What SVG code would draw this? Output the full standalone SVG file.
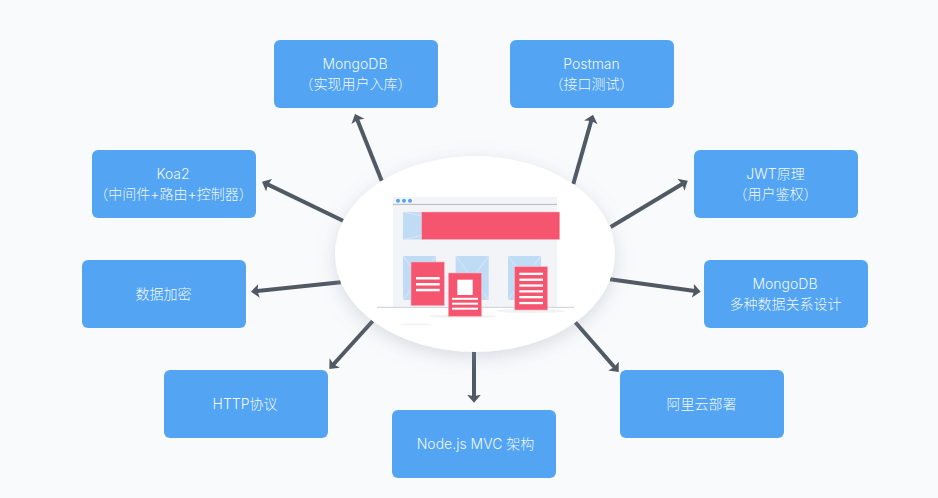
<svg xmlns="http://www.w3.org/2000/svg" width="938" height="498" viewBox="0 0 938 498">
<style>
text{font-family:"Inter","Noto Sans CJK SC","Noto Sans",sans-serif;font-size:14px;font-weight:300;fill:#fff;fill-opacity:.94;text-anchor:middle}
.box{fill:#53a5f3}
.conn{fill:none;stroke:#515a64;stroke-width:4}
.ph{fill:#c0dbf4}
.phl{stroke:#d9e8f8;stroke-width:1;fill:none}
.doc{fill:#f5556f;stroke:#f9b3c0;stroke-width:.6}
.w{fill:#fff}
.sh{fill:#f1f2f3}
</style>
<defs>
<marker id="arrow" markerUnits="userSpaceOnUse" markerWidth="10" markerHeight="16" viewBox="0 -8 10 16" refX="4" refY="0" orient="auto"><path d="M0-7 8 0 0 7 1.500 0z" fill="#515a64"/></marker>
<filter id="soft" x="-20%" y="-20%" width="140%" height="145%"><feDropShadow dx="0" dy="5" stdDeviation="9" flood-color="#8a94a6" flood-opacity=".3"/></filter>
</defs>
<rect width="938" height="498" fill="#f9fafc"/>
<g id="connectors">
<path class="conn" marker-end="url(#arrow)" d="M381.700 180.700 356.500 117.700"/>
<path class="conn" marker-end="url(#arrow)" d="M343 220.700 265.600 183.400"/>
<path class="conn" marker-end="url(#arrow)" d="M573.300 184 591.900 118.500"/>
<path class="conn" marker-end="url(#arrow)" d="M610.700 227 684.300 182.800"/>
<path class="conn" marker-end="url(#arrow)" d="M340.700 282.300 255 291.300"/>
<path class="conn" marker-end="url(#arrow)" d="M372.700 321 332 366"/>
<path class="conn" marker-end="url(#arrow)" d="M474 350V398.700"/>
<path class="conn" marker-end="url(#arrow)" d="M610 279.300 696.700 291.200"/>
<path class="conn" marker-end="url(#arrow)" d="M575.300 322.300 616.100 369"/>
</g>
<g id="center">
<ellipse cx="475" cy="254" rx="140" ry="98" fill="#fff" filter="url(#soft)"/>
<rect x="393" y="197" width="164" height="110" fill="#f3f4f7"/>
<path d="M393 204.400H557" stroke="#b4b8c2" stroke-width="1" fill="none"/>
<circle cx="398" cy="200.700" r="2" fill="#53a5f3"/><circle cx="404" cy="200.700" r="2" fill="#53a5f3"/><circle cx="410" cy="200.700" r="2" fill="#53a5f3"/>
<rect class="ph" x="403" y="212" width="19" height="27.500"/>
<path class="phl" d="M403 212 422 216M403 239.500 422 235.500"/>
<rect x="421.700" y="212" width="138" height="27.500" fill="#f5556f" stroke="#f9b3c0" stroke-width=".5"/>
<rect class="ph" x="403" y="256" width="33" height="44"/><path class="phl" d="M403 256 436 300M436 256 403 300"/>
<rect class="ph" x="455.700" y="256" width="33" height="44"/><path class="phl" d="M455.700 256 488.700 300M488.700 256 455.700 300"/>
<rect class="ph" x="508" y="256" width="33" height="44"/><path class="phl" d="M508 256 541 300M541 256 508 300"/>
<path d="M377 307.300H574" stroke="#cdcfd3" stroke-width="1" fill="none"/>
<ellipse class="sh" cx="463" cy="316.300" rx="34" ry="1.800"/>
<ellipse class="sh" cx="531" cy="311" rx="34" ry="2"/>
<ellipse class="sh" cx="415.700" cy="324.300" rx="16" ry="1"/>
<rect class="doc" x="411" y="262" width="33.300" height="43.700"/>
<rect class="w" x="416" y="277" width="23.700" height="2.500"/><rect class="w" x="416" y="283" width="23.700" height="2.500"/><rect class="w" x="416" y="288.800" width="23.700" height="2.500"/>
<rect class="doc" x="448.300" y="273" width="33.300" height="43.300"/>
<rect class="w" x="457.300" y="279.700" width="15.400" height="15.300"/>
<rect class="w" x="452" y="297.800" width="26" height="2"/><rect class="w" x="452" y="302.700" width="26" height="2"/><rect class="w" x="452" y="307.700" width="26" height="2"/>
<rect class="doc" x="514.700" y="266.700" width="33" height="43.300"/>
<rect class="w" x="519.300" y="272.700" width="23.700" height="2.300"/><rect class="w" x="519.300" y="278.600" width="23.700" height="2.300"/><rect class="w" x="519.300" y="284.400" width="23.700" height="2.300"/><rect class="w" x="519.300" y="290.200" width="23.700" height="2.300"/><rect class="w" x="519.300" y="296" width="23.700" height="2.300"/><rect class="w" x="519.300" y="301.900" width="23.700" height="2.300"/>
</g>
<g id="n-mongodb"><rect class="box" x="274" y="40" width="164" height="68" rx="6"/><text x="355" y="69">MongoDB</text><text x="355.500" y="89">（实现用户入库）</text></g>
<g id="n-postman"><rect class="box" x="510" y="40" width="164" height="68" rx="6"/><text x="591.500" y="69">Postman</text><text x="591.500" y="89">（接口测试）</text></g>
<g id="n-koa2"><rect class="box" x="92" y="150" width="164" height="68" rx="6"/><text x="173" y="179">Koa2</text><text x="173.500" y="199">（中间件+路由+控制器）</text></g>
<g id="n-jwt"><rect class="box" x="694" y="150" width="164" height="68" rx="6"/><text x="775.500" y="179">JWT原理</text><text x="775.500" y="199">（用户鉴权）</text></g>
<g id="n-encrypt"><rect class="box" x="82" y="260" width="164" height="68" rx="6"/><text x="163.500" y="299">数据加密</text></g>
<g id="n-mongodb2"><rect class="box" x="704" y="260" width="164" height="68" rx="6"/><text x="785" y="289">MongoDB</text><text x="785.500" y="309">多种数据关系设计</text></g>
<g id="n-http"><rect class="box" x="164" y="370" width="164" height="68" rx="6"/><text x="245" y="409">HTTP协议</text></g>
<g id="n-aliyun"><rect class="box" x="620" y="370" width="164" height="68" rx="6"/><text x="701.500" y="409">阿里云部署</text></g>
<g id="n-node"><rect class="box" x="392" y="410" width="164" height="68" rx="6"/><text x="475.500" y="449">Node.js MVC 架构</text></g>
</svg>
